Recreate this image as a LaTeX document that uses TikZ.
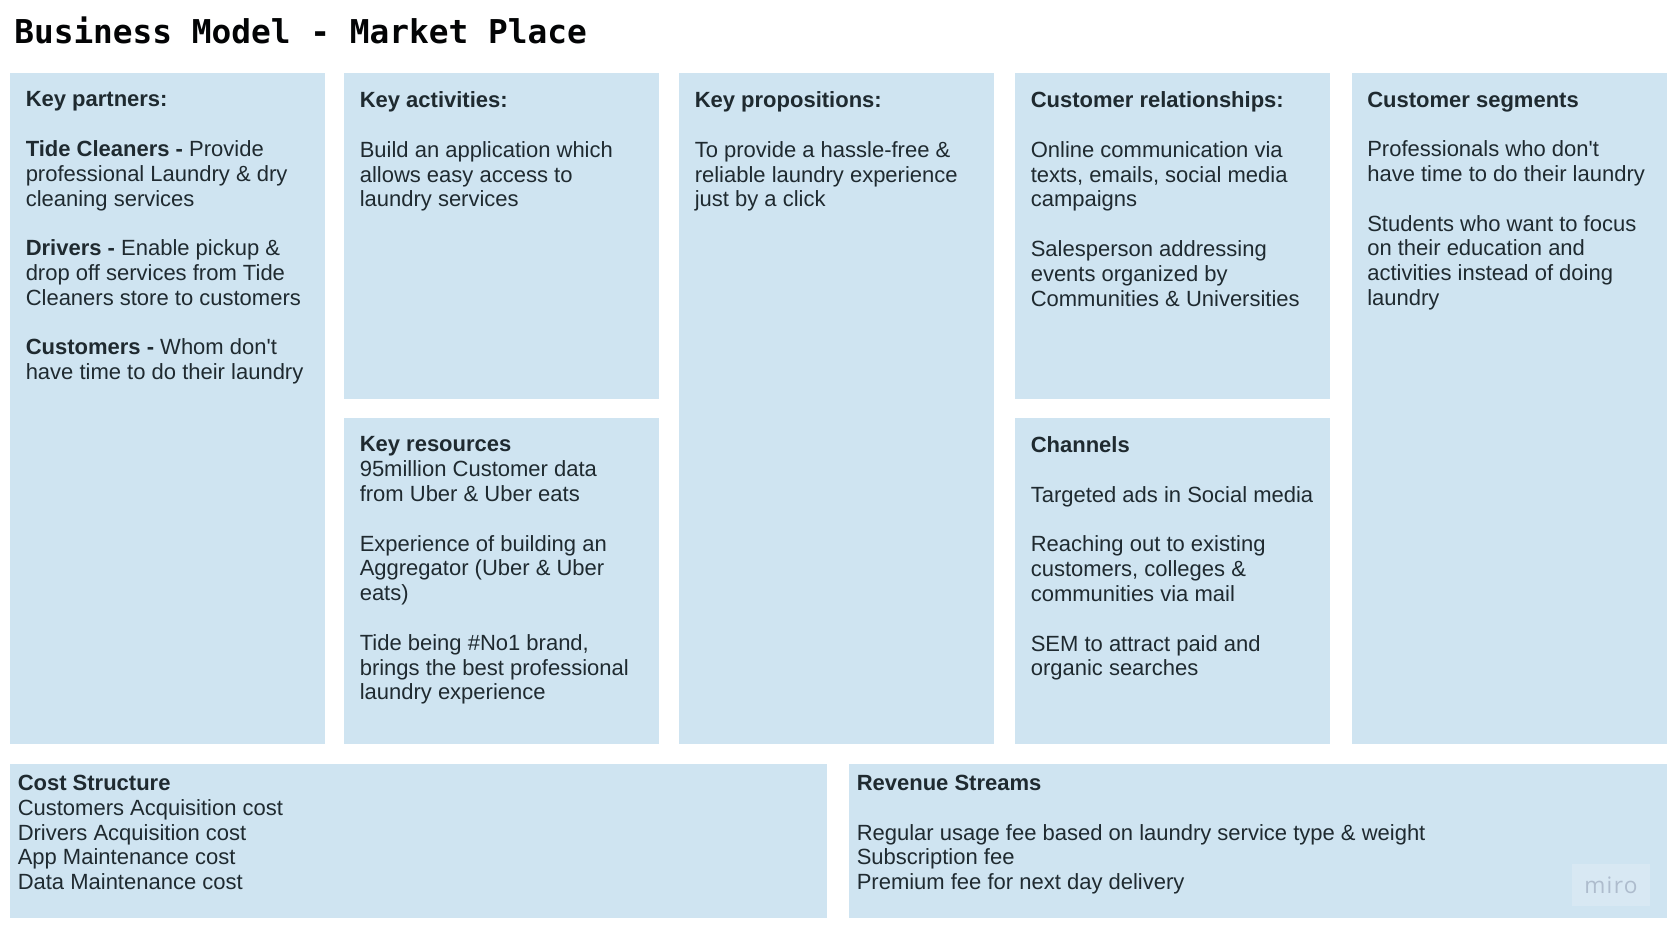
\documentclass[tikz,border=0pt]{standalone}
\usepackage{fontspec}
\setmainfont{Liberation Sans}[Ligatures=TeXOff]
\newfontfamily\titlefont{DejaVu Sans Mono}
\newfontfamily\mirofont{Open Sans}[LetterSpace=6]
\definecolor{panelblue}{HTML}{CFE4F1}
\definecolor{inkdark}{HTML}{1F2A30}
\definecolor{mirobg}{HTML}{D8E8F3}
\definecolor{mirofg}{HTML}{AEBCCD}
\newcommand{\gp}{\\[18.6pt]}
\tikzset{
  panel/.style={fill=panelblue,draw=none,inner sep=0pt,anchor=north west},
  paneltext/.style={anchor=north west,inner sep=0pt,align=left,text=inkdark,
    font=\fontsize{16.5}{18.6}\selectfont,execute at begin node={\rule{0pt}{15pt}}},
}
\newcommand{\panelbox}[6]{%
  \node[panel,minimum width=#4*0.75pt,minimum height=#5*0.75pt] (#1) at (#2,#3) {};
  \node[paneltext] (#1t) at ([xshift=#6*0.75pt,yshift=-18.4*0.75pt]#1.north west) }
\begin{document}
\begin{tikzpicture}[x=0.75pt,y=-0.75pt]
\useasboundingbox (0,0) rectangle (1676,932);
\node[anchor=base west,inner sep=0pt,text=black!90!inkdark,font=\titlefont\bfseries\fontsize{24.6}{29}\selectfont] (title) at (14,43) {Business Model - Market Place};

\panelbox{partners}{10}{73}{315}{671}{15.5}
  {\textbf{Key partners:}\gp
   \textbf{Tide Cleaners - }Provide\\professional Laundry \& dry\\cleaning services\gp
   \textbf{Drivers - }Enable pickup \&\\drop off services from Tide\\Cleaners store to customers\gp
   \textbf{Customers - }Whom don't\\have time to do their laundry};
\panelbox{activities}{344}{73}{315}{326}{15.5}
  {\textbf{Key activities:}\gp
   Build an application which\\allows easy access to\\laundry services};
\panelbox{resources}{344}{418}{315}{326}{15.5}
  {\textbf{Key resources}\\
   95million Customer data\\from Uber \& Uber eats\gp
   Experience of building an\\Aggregator (Uber \& Uber\\eats)\gp
   Tide being \#No1 brand,\\brings the best professional\\laundry experience};
\panelbox{propositions}{679}{73}{315}{671}{15.5}
  {\textbf{Key propositions:}\gp
   To provide a hassle-free \&\\reliable laundry experience\\just by a click};
\panelbox{relationships}{1015}{73}{315}{326}{15.5}
  {\textbf{Customer relationships:}\gp
   Online communication via\\texts, emails, social media\\campaigns\gp
   Salesperson addressing\\events organized by\\Communities \& Universities};
\panelbox{channels}{1015}{418}{315}{326}{15.5}
  {\textbf{Channels}\gp
   Targeted ads in Social media\gp
   Reaching out to existing\\customers, colleges \&\\communities via mail\gp
   SEM to attract paid and\\organic searches};
\panelbox{segments}{1351.5}{73}{315.5}{671}{15.5}
  {\textbf{Customer segments}\gp
   Professionals who don't\\have time to do their laundry\gp
   Students who want to focus\\on their education and\\activities instead of doing\\laundry};

\node[panel,minimum width=817*0.75pt,minimum height=154*0.75pt] (cost) at (10,763.3) {};
\node[paneltext] (costt) at ([xshift=7.5*0.75pt,yshift=-11.5*0.75pt]cost.north west)
  {\textbf{Cost Structure}\\Customers Acquisition cost\\Drivers Acquisition cost\\App Maintenance cost\\Data Maintenance cost};
\node[panel,minimum width=818.5*0.75pt,minimum height=154*0.75pt] (revenue) at (848.5,763.3) {};
\node[paneltext] (revenuet) at ([xshift=8*0.75pt,yshift=-11.5*0.75pt]revenue.north west)
  {\textbf{Revenue Streams}\gp
   Regular usage fee based on laundry service type \& weight\\Subscription fee\\Premium fee for next day delivery};

\node[fill=mirobg,minimum width=78*0.75pt,minimum height=42*0.75pt,inner sep=0pt,text=mirofg,
  font=\mirofont\fontsize{17}{20}\selectfont] (miro) at (1611,885) {miro};
\end{tikzpicture}
\end{document}
